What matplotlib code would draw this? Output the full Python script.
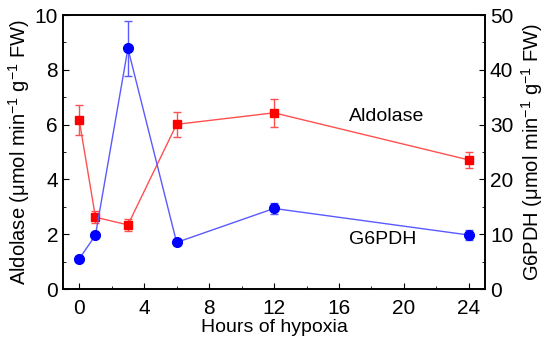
import numpy as np
import matplotlib.pyplot as plt

plt.rcParams['font.family'] = ['Liberation Sans', 'DejaVu Sans']
plt.rcParams['mathtext.fontset'] = 'custom'
plt.rcParams['mathtext.rm'] = 'Liberation Sans'
plt.rcParams['mathtext.it'] = 'Liberation Sans'

hours = [0, 1, 3, 6, 12, 24]
aldolase = [6.17, 2.62, 2.34, 6.01, 6.43, 4.71]
aldolase_err = [0.55, 0.22, 0.22, 0.45, 0.52, 0.30]
g6pdh = [5.5, 9.8, 43.9, 8.5, 14.7, 9.85]
g6pdh_err = [0.5, 0.5, 5.0, 0.5, 1.0, 0.9]

fig = plt.figure(figsize=(5.5, 3.45), dpi=100)
ax = fig.add_axes([0.1145, 0.1623, 0.7675, 0.7942])
ax2 = ax.twinx()

ax.errorbar(hours, aldolase, yerr=aldolase_err, color='#ff5050', ecolor='#ff5050',
            lw=1, elinewidth=1, capsize=3, marker='s', ms=6, mfc='red', mec='red', zorder=3)
ax2.errorbar(hours, g6pdh, yerr=g6pdh_err, color='#5a5aff', ecolor='#5a5aff',
             lw=1, elinewidth=1, capsize=3, marker='o', ms=7, mfc='blue', mec='blue', zorder=3)

ax.set_xlim(-1, 25)
ax.set_ylim(0, 10)
ax2.set_ylim(0, 50)
ax.set_xticks(np.arange(0, 25, 4))
ax.set_xticks(np.arange(0, 25, 2), minor=True)
ax.set_yticks(np.arange(0, 11, 2))
ax.set_yticks(np.arange(0, 11, 1), minor=True)
ax2.set_yticks(np.arange(0, 51, 10))
ax2.set_yticks(np.arange(0, 51, 5), minor=True)

ax.tick_params(axis='both', which='both', direction='in', labelsize=15, top=False)
ax.tick_params(axis='x', which='major', pad=7)
ax.tick_params(which='major', length=4)
ax.tick_params(which='minor', length=2.5)
ax2.tick_params(axis='y', which='both', direction='in', labelsize=15)
ax2.tick_params(which='major', length=4)
ax2.tick_params(which='minor', length=2.5)

for a in (ax, ax2):
    for s in a.spines.values():
        s.set_linewidth(1.2)

ax.set_xlabel('Hours of hypoxia', fontsize=14, labelpad=1)
ax.set_ylabel(r'Aldolase ($\mathrm{\mu}$mol min$^{-1}$ g$^{-1}$ FW)', fontsize=14.5, labelpad=2)
ax2.set_ylabel(r'G6PDH ($\mathrm{\mu}$mol min$^{-1}$ g$^{-1}$ FW)', fontsize=14.5, labelpad=4)

ax.text(18.95, 6.28, 'Aldolase', fontsize=14, ha='center', va='center')
ax.text(18.7, 1.79, 'G6PDH', fontsize=14, ha='center', va='center')

fig.savefig('out.png', dpi=100)
